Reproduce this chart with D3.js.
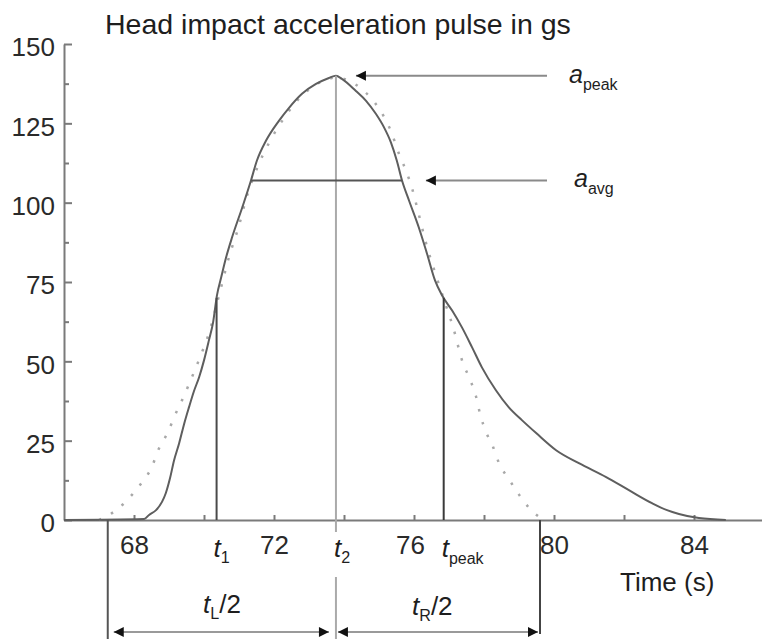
<!DOCTYPE html>
<html>
<head>
<meta charset="utf-8">
<script src="https://cdn.jsdelivr.net/npm/d3@7/dist/d3.min.js"></script>
<style>
  html, body { margin: 0; padding: 0; background: #fff; }
  svg { display: block; font-family: "Liberation Sans", Arial, sans-serif; }
</style>
</head>
<body>
<svg id="chart" width="762" height="639"></svg>
<script>
// Measured head acceleration pulse (g) against time
const pulseTime = [66, 68.29, 68.43, 68.63, 68.8, 68.91, 69.03, 69.14, 69.29, 69.43, 69.57, 69.71, 69.86, 70.0, 70.14, 70.26, 70.37, 70.49, 70.63, 70.8, 71.09, 71.34, 71.51, 71.77, 72.14, 72.43, 72.8, 73.2, 73.57, 73.77, 73.94, 74.34, 74.63, 74.91, 75.14, 75.34, 75.51, 75.66, 75.86, 76.14, 76.37, 76.6, 76.8, 77.09, 77.37, 77.66, 77.94, 78.34, 78.71, 79.09, 79.49, 80.06, 80.71, 81.49, 82.14, 82.8, 83.23, 83.57, 84.14, 84.91];
const pulseAccel = [0, 0.3, 1.6, 3.1, 5.7, 8.5, 13.2, 18.6, 24.2, 30.2, 35.5, 40.5, 45.0, 50.3, 56.6, 62.3, 70.8, 76.4, 82.7, 89.0, 98.4, 106.9, 113.2, 119.5, 125.8, 129.9, 134.3, 137.4, 139.3, 140, 139, 135.2, 132.1, 128.0, 123.8, 119.0, 113.2, 106.9, 100.6, 92.1, 84.0, 75.5, 70.8, 66.0, 60.7, 54.4, 48.1, 40.9, 35.5, 31.4, 27.4, 22.0, 17.9, 13.5, 9.4, 5.3, 3.1, 1.9, 0.6, 0];

// Symmetric bell-shaped approximation of the pulse (dotted)
const approxTime = [67.0, 67.57, 67.94, 68.23, 68.51, 68.69, 68.97, 69.17, 69.37, 69.77, 69.94, 70.14, 70.43, 70.71, 71.0, 71.23, 71.51, 71.86, 72.29, 72.71, 73.14, 73.57, 73.77, 74.14, 74.57, 75.0, 75.34, 75.57, 75.77, 75.94, 76.09, 76.34, 76.63, 76.9, 77.11, 77.4, 77.6, 77.77, 77.89, 78.06, 78.26, 78.43, 78.71, 79.0, 79.29, 79.7];
const approxAccel = [0, 3.8, 7.9, 11.9, 16.7, 22, 27.7, 33, 37.7, 48.1, 52.8, 58.8, 70.8, 82.7, 92.8, 102.2, 110.7, 118.9, 126.7, 132.7, 136.8, 139, 139.5, 138.4, 135.2, 129.6, 122.6, 115.4, 110.1, 104.7, 98.4, 87.4, 77, 68, 61, 49.4, 44.3, 39, 33.3, 27.7, 23, 17.9, 12.9, 8, 3.8, 0];

// Axis ticks
const accelTicks = [0, 25, 50, 75, 100, 125, 150];
const accelMinorTicks = [12.5, 37.5, 62.5, 87.5, 112.5, 137.5];
const timeTicks = [68, 70, 72, 74, 76, 78, 80, 82, 84, 86];
const timeLabels = [68, 72, 76, 80, 84];

// Characteristic values
const aPeak = 140;
const aAvg = 107;
const pulseStart = 67.25;   // left edge of the t_L/2 bracket
const pulseEnd = 79.6;      // right edge of the t_R/2 bracket

const svg = d3.select("#chart");
const x = d3.scaleLinear().domain([66, 86]).range([64, 764]);
const y = d3.scaleLinear().domain([0, 150]).range([520, 44]);

const pulse = pulseTime.map((t, i) => [t, pulseAccel[i]]);
const approx = approxTime.map((t, i) => [t, approxAccel[i]]);

// time at which the pulse crosses a given level, on the rising or falling side
function crossing(level, rising) {
  const peakIdx = d3.maxIndex(pulse, d => d[1]);
  const pts = rising ? pulse.slice(0, peakIdx + 1) : pulse.slice(peakIdx);
  for (let i = 0; i < pts.length - 1; i++) {
    const [t0, a0] = pts[i], [t1, a1] = pts[i + 1];
    if ((a0 - level) * (a1 - level) <= 0 && a0 !== a1) {
      return t0 + (level - a0) / (a1 - a0) * (t1 - t0);
    }
  }
  return pts[0][0];
}
const tTwo = pulse[d3.maxIndex(pulse, d => d[1])][0];
const tOne = crossing(aPeak / 2, true);
const tPeak = crossing(aPeak / 2, false);
const avgLeft = crossing(aAvg, true);
const avgRight = crossing(aAvg, false);

const ink = "#1e1e1e";
const grey = "#7a7a7a";

// ---- axes ----
const yAxis = svg.append("g").attr("transform", `translate(${x(66)},0)`)
  .call(d3.axisLeft(y).tickValues(accelTicks).tickSize(-8).tickSizeOuter(0).tickPadding(9));
const yMinor = svg.append("g").attr("transform", `translate(${x(66)},0)`)
  .call(d3.axisLeft(y).tickValues(accelMinorTicks).tickSize(-5).tickSizeOuter(0).tickFormat(""));
yMinor.select(".domain").remove();
[yAxis, yMinor].forEach(g => {
  g.selectAll("line").attr("stroke", grey).attr("stroke-width", 2);
  g.select(".domain").attr("stroke", grey).attr("stroke-width", 2);
});
yAxis.selectAll("text").attr("font-size", 26).attr("fill", "#2a2a2a")
  .attr("font-family", "Liberation Sans, Arial, sans-serif").attr("dy", "0.45em");

const xAxis = svg.append("g").attr("transform", `translate(0,${y(0)})`)
  .call(d3.axisBottom(x).tickValues(timeTicks).tickSize(-5).tickSizeOuter(0).tickPadding(16)
    .tickFormat(d => timeLabels.includes(d) ? d : ""));
xAxis.select(".domain").attr("stroke", grey).attr("stroke-width", 2);
xAxis.selectAll("line").attr("stroke", grey).attr("stroke-width", 2);
xAxis.selectAll("text").attr("font-size", 26).attr("fill", "#2a2a2a")
  .attr("font-family", "Liberation Sans, Arial, sans-serif");
xAxis.selectAll(".tick").filter(d => d === 76).select("text").attr("dx", -4);

// ---- curves ----
svg.append("path").datum(approx)
  .attr("fill", "none").attr("stroke", "#a8a8a8").attr("stroke-width", 2.5)
  .attr("stroke-dasharray", "2.5 11")
  .attr("d", d3.line().x(d => x(d[0])).y(d => y(d[1])).curve(d3.curveMonotoneX));

svg.append("path").datum(pulse)
  .attr("fill", "none").attr("stroke", "#5e5e5e").attr("stroke-width", 2)
  .attr("d", d3.line().x(d => x(d[0])).y(d => y(d[1])).curve(d3.curveMonotoneX));

// ---- reference lines ----
function seg(x1, y1, x2, y2, color, w) {
  svg.append("line").attr("x1", x1).attr("y1", y1).attr("x2", x2).attr("y2", y2)
    .attr("stroke", color).attr("stroke-width", w);
}
function head(xTip, yTip, dir) {
  const len = 10, hw = 5;
  svg.append("path")
    .attr("d", `M${xTip},${yTip}L${xTip - dir * len},${yTip - hw}L${xTip - dir * len},${yTip + hw}Z`)
    .attr("fill", "#111");
}

// half-peak markers
seg(x(tOne), y(0), x(tOne), y(aPeak / 2), "#4a4a4a", 2);
seg(x(tPeak), y(0), x(tPeak), y(aPeak / 2), "#3a3a3a", 2);

// peak time line, running down through the bracket row
const rowY = y(0) + 112;
seg(x(tTwo), y(aPeak), x(tTwo), y(0) + 12, "#aaa", 2);
seg(x(tTwo), y(0) + 57, x(tTwo), 639, "#aaa", 2);

// average level across the pulse
seg(x(avgLeft), y(aAvg), x(avgRight), y(aAvg), "#555", 2);

// a_peak and a_avg pointers
const labelEnd = 79.8;
seg(x(tTwo) + 20, y(aPeak), x(labelEnd), y(aPeak), "#8a8a8a", 2);
head(x(tTwo) + 20, y(aPeak), -1);
seg(x(76.34), y(aAvg), x(labelEnd), y(aAvg), "#8a8a8a", 2);
head(x(76.34), y(aAvg), -1);

// brackets below the axis
seg(x(pulseStart), y(0), x(pulseStart), 639, "#555", 2);
seg(x(pulseEnd), y(0), x(pulseEnd), rowY + 2, "#444", 2);
seg(x(pulseStart) + 6, rowY, x(tTwo) - 7, rowY, "#9a9a9a", 2);
head(x(pulseStart) + 6, rowY, -1);
head(x(tTwo) - 7, rowY, 1);
seg(x(tTwo) + 2, rowY, x(pulseEnd) - 2, rowY, "#9a9a9a", 2);
head(x(tTwo) + 2, rowY, -1);
head(x(pulseEnd) - 2, rowY, 1);

// ---- text ----
function label(px, py, parts, size) {
  const t = svg.append("text").attr("x", px).attr("y", py)
    .attr("font-size", size).attr("fill", ink);
  parts.forEach(p => {
    const s = t.append("tspan").text(p.text);
    if (p.italic) s.attr("font-style", "italic");
    if (p.sub) s.attr("font-size", p.subSize || size * 0.62).attr("dy", p.dy || 6);
    if (p.up) s.attr("dy", p.up).attr("font-size", size);
  });
  return t;
}

svg.append("text").attr("x", 105).attr("y", 34)
  .attr("font-size", 28.5).attr("fill", ink)
  .text("Head impact acceleration pulse in gs");

label(x(tOne) - 3, y(0) + 37, [{ text: "t", italic: true }, { text: "1", sub: true, dy: 6 }], 26);
label(x(tTwo) - 2, y(0) + 37, [{ text: "t", italic: true }, { text: "2", sub: true, dy: 6 }], 26);
label(x(tPeak) - 2, y(0) + 37, [{ text: "t", italic: true }, { text: "peak", sub: true, dy: 7, subSize: 16 }], 26);

svg.append("text").attr("x", 620).attr("y", y(0) + 71)
  .attr("font-size", 26).attr("fill", ink).text("Time (s)");

label(203, y(0) + 93, [{ text: "t", italic: true }, { text: "L", sub: true, dy: 6 }, { text: "/2", up: -6 }], 26);
label(412, y(0) + 95, [{ text: "t", italic: true }, { text: "R", sub: true, dy: 6 }, { text: "/2", up: -6 }], 26);

label(x(labelEnd) + 22, y(aPeak) + 7, [{ text: "a", italic: true }, { text: "peak", sub: true, dy: 7, subSize: 16 }], 25);
label(x(labelEnd) + 27, y(aAvg) + 7, [{ text: "a", italic: true }, { text: "avg", sub: true, dy: 7, subSize: 16 }], 25);
</script>
</body>
</html>
